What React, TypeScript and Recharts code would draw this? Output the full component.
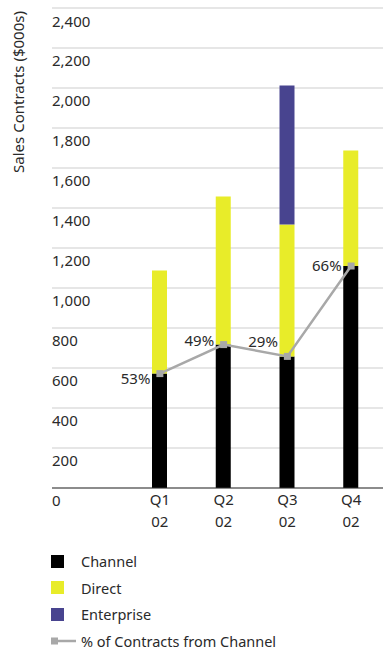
import {
  Bar,
  CartesianGrid,
  ComposedChart,
  LabelList,
  Legend,
  Line,
  XAxis,
  YAxis,
} from "recharts"

const QUARTERS = ["Q1", "Q2", "Q3", "Q4"]
const YEARS = ["02", "02", "02", "02"]
const CHANNEL = [572, 717, 658, 1110]
const DIRECT = [516, 741, 660, 578]
const ENTERPRISE = [0, 0, 695, 0]
const CHANNEL_SHARE = ["53%", "49%", "29%", "66%"]
const Y_TICKS = [0, 200, 400, 600, 800, 1000, 1200, 1400, 1600, 1800, 2000, 2200, 2400]

const COLORS = {
  channel: "#000000",
  direct: "#e8ec29",
  enterprise: "#48448f",
  line: "#a8a8a8",
  grid: "#e6e6e6",
  text: "#2a2a2a",
}

const FONT = "'Noto Sans', sans-serif"

const data = QUARTERS.map((q, i) => ({
  quarter: q,
  year: YEARS[i],
  channel: CHANNEL[i],
  direct: DIRECT[i],
  enterprise: ENTERPRISE[i],
  share: CHANNEL_SHARE[i],
}))

// nudge each % label a bit so it sits like the original
const LABEL_DY = [5, -4, -15, 0]

function YTick({ y, payload }: any) {
  return (
    <text x={52} y={y + 13} dy="0.35em" fontSize={15} fill={COLORS.text} fontFamily={FONT}>
      {payload.value.toLocaleString("en-US")}
    </text>
  )
}

function XTick({ x, payload, index }: any) {
  return (
    <text x={x} textAnchor="middle" fontSize={15} fill={COLORS.text} fontFamily={FONT}>
      <tspan x={x} y={505}>{payload.value}</tspan>
      <tspan x={x} y={527}>{YEARS[index]}</tspan>
    </text>
  )
}

function ShareLabel({ x, y, value, index }: any) {
  return (
    <text
      x={x - 9.5}
      y={y + LABEL_DY[index]}
      dy="0.35em"
      textAnchor="end"
      fontSize={15}
      fill={COLORS.text}
      fontFamily={FONT}
    >
      {value}
    </text>
  )
}

function SquareDot({ cx, cy }: any) {
  return <rect x={cx - 3.5} y={cy - 3.5} width={7} height={7} fill={COLORS.line} />
}

const LEGEND_ROWS = [
  { name: "Channel", color: COLORS.channel, line: false },
  { name: "Direct", color: COLORS.direct, line: false },
  { name: "Enterprise", color: COLORS.enterprise, line: false },
  { name: "% of Contracts from Channel", color: COLORS.line, line: true },
]

function ChartLegend() {
  return (
    <div style={{ position: "relative", height: 116, fontFamily: FONT, fontSize: 14.5, color: COLORS.text }}>
      {LEGEND_ROWS.map((row, i) => (
        <div
          key={row.name}
          style={{ position: "absolute", left: 0, top: 18 + i * 26.7, height: 18, width: 383, lineHeight: "18px" }}
        >
          {row.line ? (
            <svg width={26} height={10} style={{ position: "absolute", left: 51, top: 4 }}>
              <rect x={0} y={1.5} width={7} height={7} fill={row.color} />
              <line x1={6} y1={5} x2={25} y2={5} stroke={row.color} strokeWidth={2.5} />
            </svg>
          ) : (
            <div style={{ position: "absolute", left: 51, top: 2.5, width: 13, height: 13, background: row.color }} />
          )}
          <span style={{ position: "absolute", left: 81, whiteSpace: "nowrap" }}>{row.name}</span>
        </div>
      ))}
    </div>
  )
}

export default function App() {
  return (
    <div style={{ width: 383, height: 650 }}>
      <style>{`body{margin:0}`}</style>
      <ComposedChart
        width={383}
        height={650}
        data={data}
        margin={{ top: 8, right: 0, bottom: 0, left: 0 }}
      >
        <CartesianGrid vertical={false} stroke={COLORS.grid} strokeWidth={2} />
        <XAxis
          dataKey="quarter"
          height={46}
          padding={{ left: 76, right: 0 }}
          axisLine={{ stroke: "#333333", strokeWidth: 1 }}
          tickLine={false}
          tick={<XTick />}
          interval={0}
        />
        <YAxis
          width={52}
          domain={[0, 2400]}
          ticks={Y_TICKS}
          axisLine={false}
          tickLine={false}
          tick={<YTick />}
          label={{
            value: "Sales Contracts ($000s)",
            position: "insideLeft",
            content: () => (
              <text
                x={18}
                y={92}
                transform="rotate(-90 18 92)"
                textAnchor="middle"
                dominantBaseline="central"
                fontSize={15}
                fill={COLORS.text}
                fontFamily={FONT}
              >
                Sales Contracts ($000s)
              </text>
            ),
          }}
        />
        <Bar dataKey="channel" stackId="a" fill={COLORS.channel} barSize={15} isAnimationActive={false} />
        <Bar dataKey="direct" stackId="a" fill={COLORS.direct} barSize={15} isAnimationActive={false} />
        <Bar dataKey="enterprise" stackId="a" fill={COLORS.enterprise} barSize={15} isAnimationActive={false} />
        <Line
          dataKey="channel"
          stroke={COLORS.line}
          strokeWidth={2.5}
          dot={<SquareDot />}
          activeDot={false}
          isAnimationActive={false}
        >
          <LabelList dataKey="share" content={<ShareLabel />} />
        </Line>
        <Legend
          verticalAlign="bottom"
          align="left"
          content={<ChartLegend />}
          wrapperStyle={{ left: 0, bottom: 0, width: 383 }}
        />
      </ComposedChart>
    </div>
  )
}
